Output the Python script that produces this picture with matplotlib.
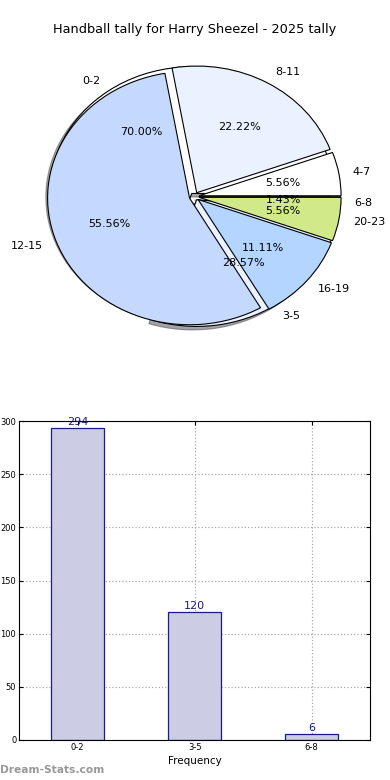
import matplotlib
matplotlib.use("Agg")
import matplotlib.pyplot as plt

# first pie / bar data (age groups)
groups = ['0-2', '3-5', '6-8']
counts = [294, 120, 6]

# second pie drawn over the first one
groups2 = ['4-7', '8-11', '12-15', '16-19', '20-23']
counts2 = [1, 4, 10, 2, 1]

colours = ['white', '#eaf1ff', '#c5d9ff', '#b4d5ff', '#d0ea8a']

fig = plt.figure(figsize=(3.9, 7.8), dpi=100)

# ---- pie section
ax1 = fig.add_axes([0.043, 0.545, 0.910, 0.406])
ax1.pie(counts, labels=groups, colors=colours[:3], explode=[0.03] * 3,
        autopct='%1.2f%%', shadow=True,
        wedgeprops={'edgecolor': 'black', 'linewidth': 0.8},
        textprops={'fontsize': 8})
ax1.pie(counts2, labels=groups2, colors=colours, explode=[0.035] * 5,
        autopct='%1.2f%%',
        wedgeprops={'edgecolor': 'black', 'linewidth': 0.8},
        textprops={'fontsize': 8})
ax1.set_aspect('auto')
ax1.set_xlim(-1.25, 1.25)
ax1.set_ylim(-1.25, 1.25)
fig.text(0.5, 1 - 30 / 780, 'Handball tally for Harry Sheezel - 2025 tally',
         ha='center', va='center', fontsize=9.3)

# ---- bar section
ax2 = fig.add_axes([0.049, 0.0513, 0.900, 0.4087])
x = range(len(groups))
ax2.bar(x, counts, width=0.45, color='#ccccE4', edgecolor='#1a1a8c', linewidth=0.9, zorder=2)
for i, v in enumerate(counts):
    ax2.text(i, v + 1, str(v), ha='center', va='bottom', color='#1a1a8c', fontsize=8)
ax2.set_xticks(list(x))
ax2.set_xticklabels(groups)
ax2.set_xlim(-0.5, 2.5)
ax2.set_ylim(0, 300)
ax2.set_yticks([0, 50, 100, 150, 200, 250, 300])
ax2.tick_params(labelsize=6, direction='in', top=True, right=True, length=3, pad=2)
ax2.grid(True, linestyle=':', color='#aaaaaa', linewidth=0.9, zorder=0)
ax2.set_axisbelow(True)
ax2.set_xlabel('Frequency', fontsize=7.5, labelpad=3)

fig.text(0.0, 1 - 770 / 780, 'Dream-Stats.com', ha='left', va='center',
         color='#999999', fontsize=7.7, fontweight='bold')

fig.savefig('out.png', dpi=100)
